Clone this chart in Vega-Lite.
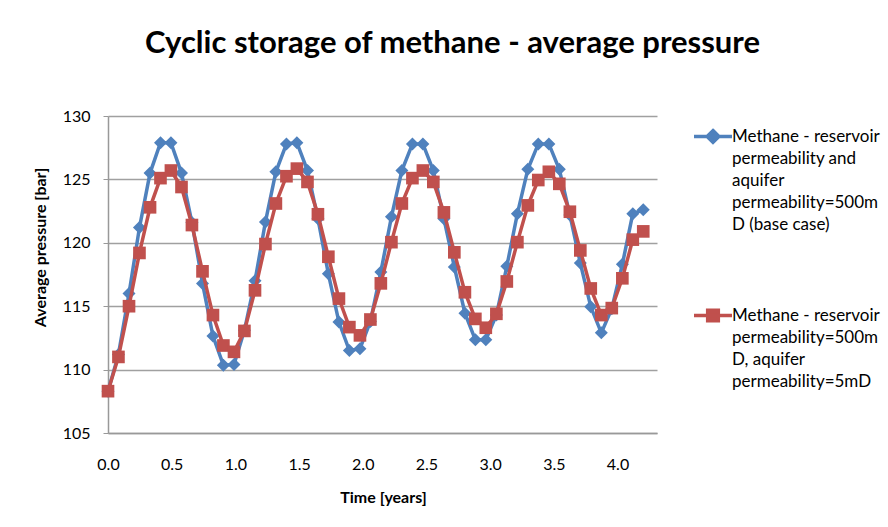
{
  "$schema": "https://vega.github.io/schema/vega-lite/v6.json",
  "width": 549,
  "height": 317,
  "autosize": {"type": "none"},
  "padding": {"left": 108, "top": 116, "right": 231, "bottom": 94},
  "background": "white",
  "title": {"text": "Cyclic storage of methane - average pressure", "font": "Lato", "fontSize": 31, "fontWeight": "bold", "color": "#000000", "anchor": "middle", "dx": 70, "offset": 48},
  "data": {"values": [
    {"t": 0.000, "base": 108.3, "aq5": 108.3},
    {"t": 0.082, "base": 111.2, "aq5": 111.0},
    {"t": 0.165, "base": 116.0, "aq5": 115.0},
    {"t": 0.247, "base": 121.2, "aq5": 119.2},
    {"t": 0.330, "base": 125.5, "aq5": 122.8},
    {"t": 0.412, "base": 127.9, "aq5": 125.1},
    {"t": 0.494, "base": 127.9, "aq5": 125.7},
    {"t": 0.577, "base": 125.5, "aq5": 124.4},
    {"t": 0.659, "base": 121.6, "aq5": 121.4},
    {"t": 0.742, "base": 116.8, "aq5": 117.75},
    {"t": 0.824, "base": 112.65, "aq5": 114.3},
    {"t": 0.906, "base": 110.35, "aq5": 111.9},
    {"t": 0.989, "base": 110.4, "aq5": 111.4},
    {"t": 1.071, "base": 113.1, "aq5": 113.05},
    {"t": 1.154, "base": 117.0, "aq5": 116.25},
    {"t": 1.236, "base": 121.65, "aq5": 119.9},
    {"t": 1.318, "base": 125.6, "aq5": 123.1},
    {"t": 1.401, "base": 127.8, "aq5": 125.25},
    {"t": 1.483, "base": 127.9, "aq5": 125.85},
    {"t": 1.566, "base": 125.7, "aq5": 124.8},
    {"t": 1.648, "base": 121.9, "aq5": 122.25},
    {"t": 1.730, "base": 117.55, "aq5": 118.9},
    {"t": 1.813, "base": 113.75, "aq5": 115.6},
    {"t": 1.895, "base": 111.5, "aq5": 113.35},
    {"t": 1.978, "base": 111.65, "aq5": 112.7},
    {"t": 2.060, "base": 113.8, "aq5": 113.95},
    {"t": 2.142, "base": 117.7, "aq5": 116.8},
    {"t": 2.225, "base": 122.05, "aq5": 120.05},
    {"t": 2.307, "base": 125.7, "aq5": 123.1},
    {"t": 2.390, "base": 127.8, "aq5": 125.1},
    {"t": 2.472, "base": 127.8, "aq5": 125.7},
    {"t": 2.554, "base": 125.7, "aq5": 124.8},
    {"t": 2.637, "base": 121.9, "aq5": 122.4},
    {"t": 2.719, "base": 118.1, "aq5": 119.25},
    {"t": 2.802, "base": 114.45, "aq5": 116.1},
    {"t": 2.884, "base": 112.35, "aq5": 114.0},
    {"t": 2.966, "base": 112.35, "aq5": 113.3},
    {"t": 3.049, "base": 114.3, "aq5": 114.4},
    {"t": 3.131, "base": 118.15, "aq5": 116.95},
    {"t": 3.214, "base": 122.3, "aq5": 120.05},
    {"t": 3.296, "base": 125.8, "aq5": 122.95},
    {"t": 3.378, "base": 127.8, "aq5": 124.95},
    {"t": 3.461, "base": 127.8, "aq5": 125.6},
    {"t": 3.543, "base": 125.8, "aq5": 124.65},
    {"t": 3.626, "base": 122.2, "aq5": 122.45},
    {"t": 3.708, "base": 118.4, "aq5": 119.4},
    {"t": 3.790, "base": 114.95, "aq5": 116.4},
    {"t": 3.873, "base": 112.9, "aq5": 114.3},
    {"t": 3.955, "base": 114.8, "aq5": 114.85},
    {"t": 4.038, "base": 118.3, "aq5": 117.2},
    {"t": 4.120, "base": 122.3, "aq5": 120.25},
    {"t": 4.202, "base": 122.6, "aq5": 120.9}
  ]},
  "transform": [{"fold": ["base", "aq5"], "as": ["series", "p"]}],
  "encoding": {
    "x": {
      "field": "t", "type": "quantitative", "title": "Time [years]",
      "scale": {"domain": [0, 4.31], "nice": false, "zero": false},
      "axis": {"values": [0, 0.5, 1, 1.5, 2, 2.5, 3, 3.5, 4], "format": ".1f", "grid": false, "ticks": false, "tickSize": 0, "labelFlush": false, "domainColor": "#999999", "domainWidth": 1.5, "labelFont": "Lato", "labelFontSize": 16, "labelColor": "#000000", "labelPadding": 23, "titleFont": "Lato", "titleFontSize": 16, "titleFontWeight": "bold", "titleColor": "#000000", "titleX": 275, "titleY": 64, "titleBaseline": "middle"}
    },
    "y": {
      "field": "p", "type": "quantitative", "title": "Average pressure [bar]",
      "scale": {"domain": [105, 130], "nice": false, "zero": false},
      "axis": {"values": [105, 110, 115, 120, 125, 130], "grid": true, "gridColor": "#a0a0a0", "gridWidth": 1.5, "domainColor": "#999999", "domainWidth": 1.5, "tickColor": "#999999", "tickSize": 5, "labelFont": "Lato", "labelFontSize": 16, "labelColor": "#000000", "labelPadding": 13, "titleFont": "Lato", "titleFontSize": 16, "titleFontWeight": "bold", "titleColor": "#000000", "titleX": -68, "titleY": 131, "titleAlign": "center", "titleBaseline": "middle"}
    },
    "color": {
      "field": "series", "type": "nominal",
      "scale": {"domain": ["base", "aq5"], "range": ["#4F81BD", "#C0504D"]},
      "legend": {
        "orient": "none", "legendX": 593.5, "legendY": 9, "padding": 0, "title": null,
        "rowPadding": 70, "symbolBaseline": "top", "labelBaseline": "top",
        "labelOffset": 7.5, "labelFont": "Lato", "labelFontSize": 17, "labelColor": "#000000", "labelLimit": 300,
        "symbolSize": 361, "symbolStrokeWidth": 3.5,
        "labelExpr": "datum.value == 'base' ? ['Methane - reservoir', 'permeability and', 'aquifer', 'permeability=500m', 'D (base case)'] : ['Methane - reservoir', 'permeability=500m', 'D, aquifer', 'permeability=5mD']",
        "encode": {
          "symbols": {"update": {
            "shape": {"signal": "datum.value == 'base' ? 'M-2,0H2M0,-0.62L0.62,0L0,0.62L-0.62,0Z' : 'M-2,0H2M-0.56,-0.56H0.56V0.56H-0.56Z'"},
            "fill": {"scale": "color", "field": "value"},
            "stroke": {"scale": "color", "field": "value"},
            "strokeWidth": {"value": 3.5},
            "opacity": {"value": 1}
          }},
          "labels": {"update": {"lineHeight": {"value": 22}, "dy": {"value": -8}}}
        }
      }
    }
  },
  "layer": [
    {"transform": [{"filter": "datum.series == 'base'"}], "mark": {"type": "line", "strokeWidth": 3.5}},
    {"transform": [{"filter": "datum.series == 'base'"}], "mark": {"type": "point", "shape": "diamond", "filled": true, "size": 169, "opacity": 1}},
    {"transform": [{"filter": "datum.series == 'aq5'"}], "mark": {"type": "line", "strokeWidth": 3.5}},
    {"transform": [{"filter": "datum.series == 'aq5'"}], "mark": {"type": "square", "size": 160, "opacity": 1}}
  ],
  "config": {"view": {"stroke": null}, "font": "Lato"}
}
